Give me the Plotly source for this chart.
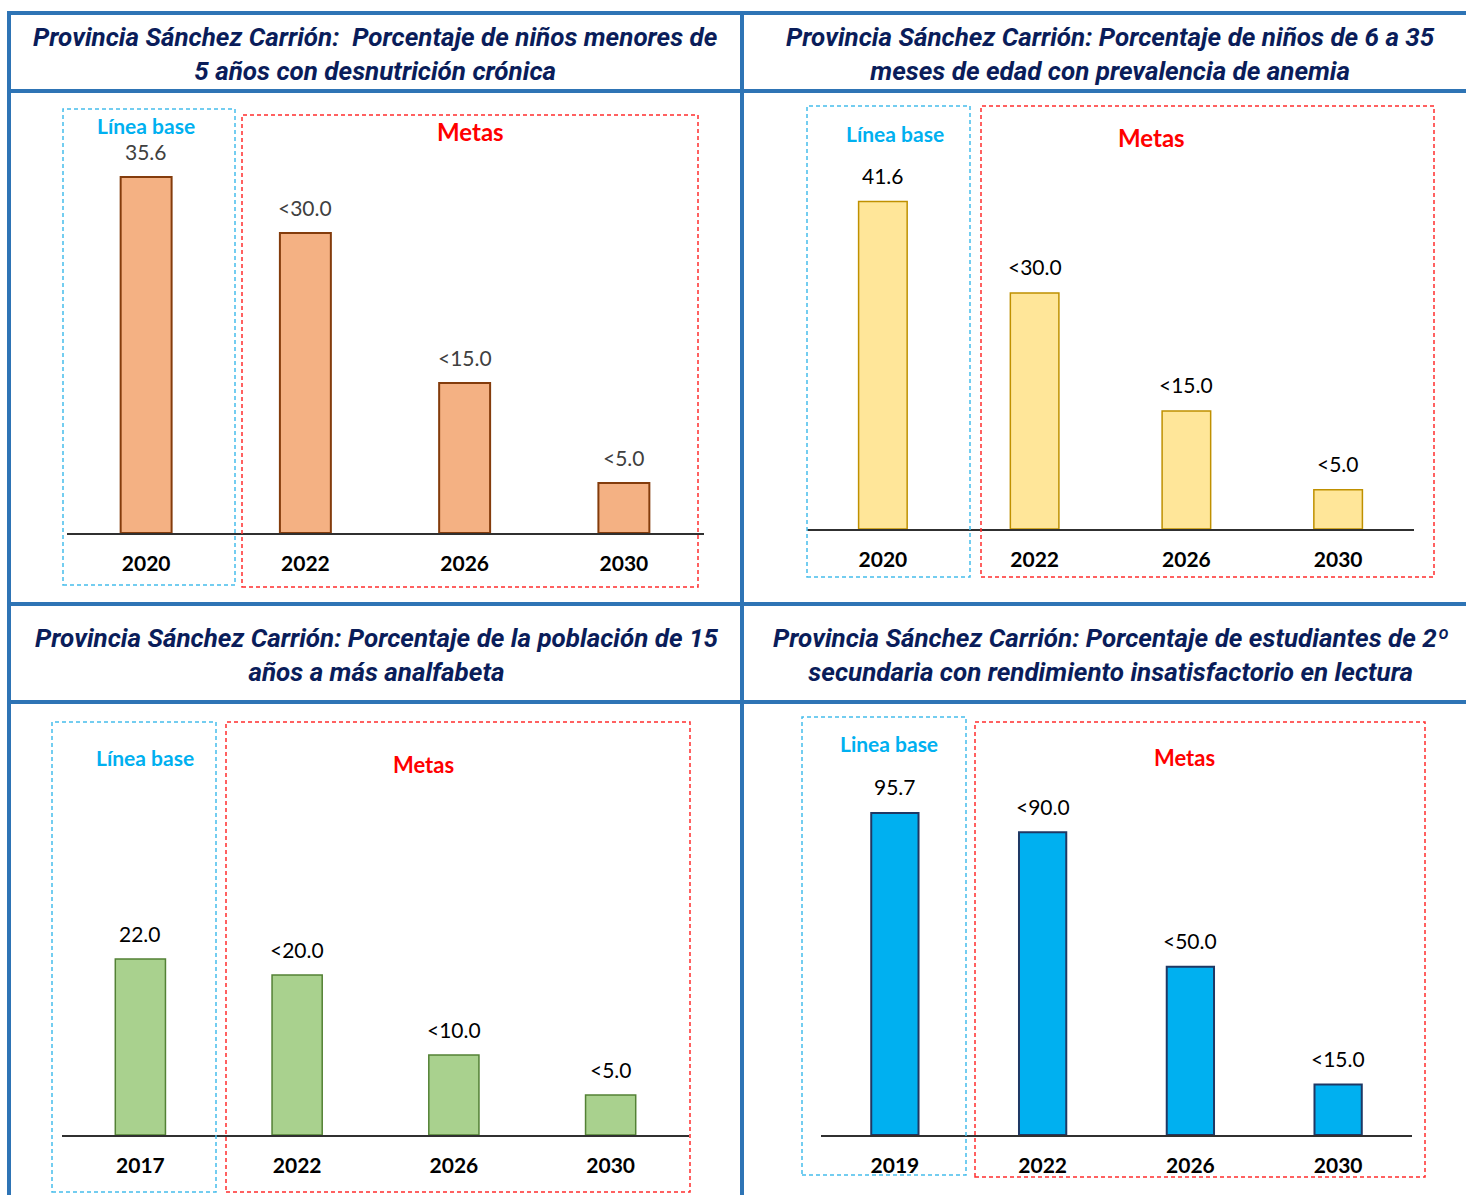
import plotly.graph_objects as go

# canvas in pixels, used to place panels like the source sheet
W, H = 1466, 1195

# data for the four panels
titles = [
    "Provincia Sánchez Carrión:  Porcentaje de niños menores de<br>5 años con desnutrición crónica",
    "Provincia Sánchez Carrión: Porcentaje de niños de 6 a 35<br>meses de edad con prevalencia de anemia",
    "Provincia Sánchez Carrión: Porcentaje de la población de 15<br>años a más analfabeta",
    "Provincia Sánchez Carrión: Porcentaje de estudiantes de 2º<br>secundaria con rendimiento insatisfactorio en lectura",
]
years_desnutricion = ["2020", "2022", "2026", "2030"]
values_desnutricion = [35.6, 30.0, 15.0, 5.0]
labels_desnutricion = ["35.6", "<30.0", "<15.0", "<5.0"]

years_anemia = ["2020", "2022", "2026", "2030"]
values_anemia = [41.6, 30.0, 15.0, 5.0]
labels_anemia = ["41.6", "<30.0", "<15.0", "<5.0"]

years_analfabeta = ["2017", "2022", "2026", "2030"]
values_analfabeta = [22.0, 20.0, 10.0, 5.0]
labels_analfabeta = ["22.0", "<20.0", "<10.0", "<5.0"]

years_lectura = ["2019", "2022", "2026", "2030"]
values_lectura = [95.7, 90.0, 50.0, 15.0]
labels_lectura = ["95.7", "<90.0", "<50.0", "<15.0"]

base_texts = ["Línea base", "Línea base", "Línea base", "Linea base"]
meta_text = "Metas"

TITLE_FONT = "Roboto"


def px(x):
    return x / W


def py(y):
    return 1 - y / H


# panel geometry (pixels): x-range of axis, baseline, top, px per unit
panels = [
    dict(years=years_desnutricion, values=values_desnutricion, labels=labels_desnutricion,
         fill="#F4B183", edge="#843C0C", ew=2, lblcolor="#404040",
         x0=66.5, x1=703.5, base=533, top=110, scale=10.0,
         tcx=375, tcy=54,
         bbox=(63, 109, 235, 585), rbox=(242, 115, 698, 587),
         bpos=(146, 125), mpos=(470, 132), msize=24),
    dict(years=years_anemia, values=values_anemia, labels=labels_anemia,
         fill="#FFE699", edge="#BF9000", ew=1.5, lblcolor="#000000",
         x0=807, x1=1414, base=529, top=106, scale=7.87,
         tcx=1110, tcy=54,
         bbox=(807, 106, 970, 577), rbox=(981, 106, 1434, 577),
         bpos=(895, 133), mpos=(1151, 137), msize=24),
    dict(years=years_analfabeta, values=values_analfabeta, labels=labels_analfabeta,
         fill="#A9D18E", edge="#538135", ew=1.5, lblcolor="#000000",
         x0=62, x1=689, base=1135, top=720, scale=8.0,
         tcx=376, tcy=655,
         bbox=(52, 722, 216, 1192), rbox=(226, 722, 690, 1192),
         bpos=(145, 757), mpos=(423, 765), msize=22),
    dict(years=years_lectura, values=values_lectura, labels=labels_lectura,
         fill="#00B0F0", edge="#1F3864", ew=2, lblcolor="#000000",
         x0=821, x1=1412, base=1135, top=717, scale=3.365,
         tcx=1111, tcy=655,
         bbox=(802, 717, 966, 1175), rbox=(975, 722, 1425, 1177),
         bpos=(889, 743), mpos=(1184, 757), msize=22),
]

fig = go.Figure()
shapes = []
annotations = []
layout_axes = {}

for i, p in enumerate(panels):
    n = "" if i == 0 else str(i + 1)
    xa, ya = "x" + n, "y" + n
    fig.add_trace(go.Bar(
        x=p["years"], y=p["values"], width=0.32,
        marker=dict(color=p["fill"], line=dict(color=p["edge"], width=p["ew"])),
        xaxis=xa, yaxis=ya, showlegend=False, hoverinfo="skip",
    ))
    layout_axes["xaxis" + n] = dict(
        domain=[px(p["x0"]), px(p["x1"])], anchor=ya, type="category",
        range=[-0.5, 3.5], showgrid=False, zeroline=False,
        showline=True, linecolor="#303030", linewidth=2,
        ticks="outside", ticklen=11, tickcolor="rgba(0,0,0,0)",
        tickfont=dict(family="Lato", size=21, color="#000000", weight="bold"),
    )
    layout_axes["yaxis" + n] = dict(
        domain=[py(p["base"]), py(p["top"])], anchor=xa,
        range=[0, (p["base"] - p["top"]) / p["scale"]],
        showgrid=False, zeroline=False, showline=False,
        showticklabels=False, ticks="",
    )
    # value labels above bars (category index as x)
    for j, (v, t) in enumerate(zip(p["values"], p["labels"])):
        annotations.append(dict(
            x=j, y=v, xref=xa, yref=ya, text=t, showarrow=False,
            xanchor="center", yanchor="middle", yshift=26,
            font=dict(family="Lato", size=21, color=p["lblcolor"]),
        ))
    # title
    annotations.append(dict(
        x=px(p["tcx"]), y=py(p["tcy"]), xref="paper", yref="paper",
        text="<b><i>" + titles[i] + "</i></b>", showarrow=False,
        xanchor="center", yanchor="middle", align="center",
        font=dict(family=TITLE_FONT, size=26, color="#0A1D5A"),
    ))
    # línea base / metas labels
    annotations.append(dict(
        x=px(p["bpos"][0]), y=py(p["bpos"][1]), xref="paper", yref="paper",
        text="<b>" + base_texts[i] + "</b>", showarrow=False,
        xanchor="center", yanchor="middle",
        font=dict(family="Lato", size=21, color="#00B0F0"),
    ))
    annotations.append(dict(
        x=px(p["mpos"][0]), y=py(p["mpos"][1]), xref="paper", yref="paper",
        text="<b>" + meta_text + "</b>", showarrow=False,
        xanchor="center", yanchor="middle",
        font=dict(family="Lato", size=p["msize"], color="#FF0000"),
    ))
    # dashed boxes
    bx0, by0, bx1, by1 = p["bbox"]
    shapes.append(dict(type="rect", xref="paper", yref="paper",
                       x0=px(bx0), x1=px(bx1), y0=py(by1), y1=py(by0),
                       line=dict(color="#45BDEB", width=1.5, dash="4px,3px")))
    rx0, ry0, rx1, ry1 = p["rbox"]
    shapes.append(dict(type="rect", xref="paper", yref="paper",
                       x0=px(rx0), x1=px(rx1), y0=py(ry1), y1=py(ry0),
                       line=dict(color="#FF2E2E", width=1.5, dash="4px,3px")))

# blue frame of the sheet
frame = dict(color="#2E74B5", width=4)
for yy in [13, 91, 604, 702]:
    shapes.append(dict(type="line", xref="paper", yref="paper",
                       x0=px(7), x1=1, y0=py(yy), y1=py(yy), line=frame))
for xx in [9, 742]:
    shapes.append(dict(type="line", xref="paper", yref="paper",
                       x0=px(xx), x1=px(xx), y0=py(11), y1=0, line=frame))

fig.update_layout(
    width=W, height=H,
    margin=dict(l=0, r=0, t=0, b=0),
    paper_bgcolor="white", plot_bgcolor="rgba(0,0,0,0)",
    shapes=shapes, annotations=annotations,
    **layout_axes,
)

fig.write_html("out.html", config=dict(displayModeBar=False),
               post_script="document.body.style.margin='0';")
